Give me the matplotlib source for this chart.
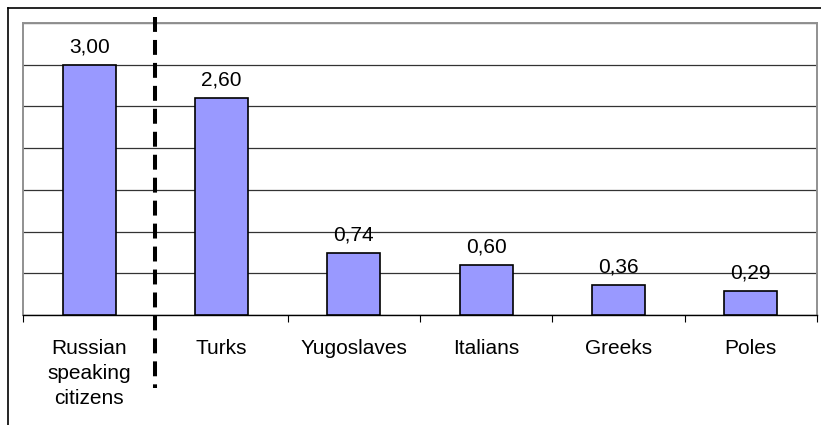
import matplotlib.pyplot as plt
from matplotlib.lines import Line2D

plt.rcParams['font.family'] = ['Liberation Sans', 'DejaVu Sans']

groups = ['Russian\nspeaking\ncitizens', 'Turks', 'Yugoslaves', 'Italians', 'Greeks', 'Poles']
values = [3.00, 2.60, 0.74, 0.60, 0.36, 0.29]

W, H = 821, 425
fig = plt.figure(figsize=(W / 100, H / 100), dpi=100)
ax = fig.add_axes([23 / W, 1 - 315 / H, (817 - 23) / W, (315 - 23) / H])

x = list(range(len(groups)))
ax.bar(x, values, width=0.4, color='#9999FF', edgecolor='black', linewidth=1.2, zorder=3)

for xi, v in zip(x, values):
    ax.annotate(f'{v:.2f}'.replace('.', ','), (xi, v), xytext=(0, 9),
                textcoords='offset points', ha='center', va='baseline',
                fontsize=15, zorder=4)

ax.set_xlim(-0.5, len(groups) - 0.5)
ax.set_ylim(0, 3.5)
ax.set_yticks([0.5 * i for i in range(8)])
ax.yaxis.grid(True, color='#333333', linewidth=0.9, zorder=0)
ax.tick_params(axis='y', left=False, labelleft=False)

# category boundary ticks, labels at centres
ax.set_xticks([i - 0.5 for i in range(len(groups) + 1)])
ax.set_xticklabels([])
ax.set_xticks(x, minor=True)
ax.set_xticklabels(groups, minor=True, fontsize=15, linespacing=1.42, va='top')
ax.tick_params(axis='x', which='major', direction='out', length=5, color='black')
ax.tick_params(axis='x', which='minor', length=0, pad=17)

for s in ['top', 'right', 'left']:
    ax.spines[s].set_color('#909090')
    ax.spines[s].set_linewidth(1.4)
ax.spines['bottom'].set_color('black')
ax.spines['bottom'].set_linewidth(1)

# dashed separator after the first group, running past the axes
sep = Line2D([155 / W, 155 / W], [1 - 17 / H, 1 - 388 / H], transform=fig.transFigure,
             color='black', linewidth=2.9, linestyle=(0, (3.7, 2.0)), zorder=10)
fig.add_artist(sep)

# outer frame (top and left edges visible)
fig.add_artist(Line2D([8 / W, 1], [1 - 8 / H, 1 - 8 / H], transform=fig.transFigure,
                      color='black', linewidth=1.2))
fig.add_artist(Line2D([8 / W, 8 / W], [1 - 8 / H, 0], transform=fig.transFigure,
                      color='black', linewidth=1.2))

fig.savefig('out.png', dpi=100)
